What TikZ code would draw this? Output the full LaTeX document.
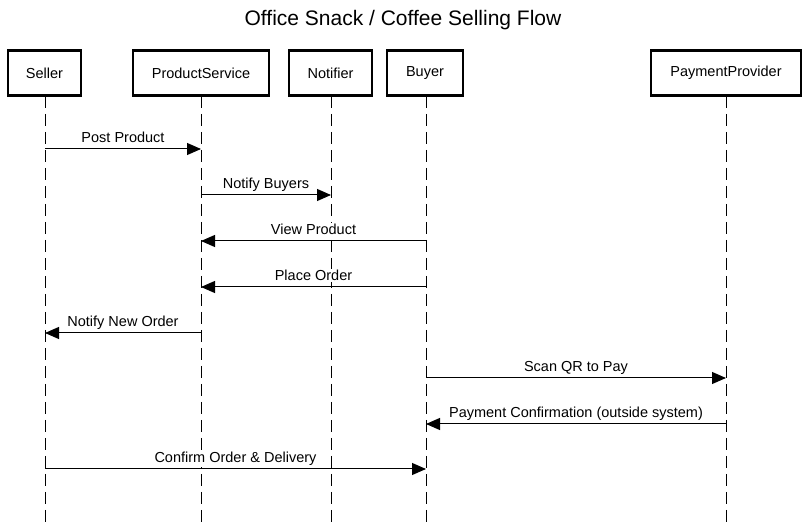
\documentclass[tikz,border=0pt]{standalone}
\usepackage{fontspec}
\setmainfont{Liberation Sans}
\usetikzlibrary{arrows.meta,calc}
\begin{document}
\begin{tikzpicture}[x=1pt,y=-1pt,
  actor/.style={draw=black,line width=2.5pt,fill=white,minimum height=45pt,inner sep=0pt,font=\fontsize{14.5}{16}\selectfont},
  life/.style={draw=black,line width=1pt,dash pattern=on 12pt off 6pt},
  msg/.style={draw=black,line width=1pt,-{Triangle[length=14pt,width=12pt]}},
  lbl/.style={font=\fontsize{14.5}{16}\selectfont,fill=white,inner xsep=2pt,inner ysep=1pt,anchor=base,yshift=6pt}]
\useasboundingbox (0,0) rectangle (807,526);
\node[font=\fontsize{21}{24}\selectfont,anchor=base] (title) at (403,26) {Office Snack / Coffee Selling Flow};
% lifelines
\draw[life] (45,96) -- (45,522) coordinate (sellerE);
\draw[life] (201,96) -- (201,522) coordinate (psE);
\draw[life] (331,96) -- (331,522) coordinate (ntE);
\draw[life] (426,96) -- (426,522) coordinate (buyE);
\draw[life] (726,96) -- (726,522) coordinate (ppE);
% actors
\node[actor,minimum width=73pt] (seller) at (44.5,73) {Seller};
\node[actor,minimum width=136pt] (ps) at (201,73) {ProductService};
\node[actor,minimum width=83pt] (nt) at (330.5,73) {Notifier};
\node[actor,minimum width=76pt] (buy) at (425,73) {Buyer};
\node[actor,minimum width=150pt] (pp) at (726,73) {PaymentProvider};
% message coordinates
\foreach \n/\x in {s/45,p/201,n/331,b/426,q/726}{
  \foreach \i/\y in {1/149,2/195,3/241,4/287,5/333,6/378,7/424,8/469}{
    \coordinate (\n\i) at (\x,\y);
  }
}
\node[lbl] (m1) at ($(s1)!0.5!(p1)$) {Post Product};
\draw[msg] (s1) -- (p1);
\node[lbl] (m2) at ($(p2)!0.5!(n2)$) {Notify Buyers};
\draw[msg] (p2) -- (n2);
\node[lbl] (m3) at ($(b3)!0.5!(p3)$) {View Product};
\draw[msg] (b3) -- (p3);
\node[lbl] (m4) at ($(b4)!0.5!(p4)$) {Place Order};
\draw[msg] (b4) -- (p4);
\node[lbl] (m5) at ($(p5)!0.5!(s5)$) {Notify New Order};
\draw[msg] (p5) -- (s5);
\node[lbl] (m6) at ($(b6)!0.5!(q6)$) {Scan QR to Pay};
\draw[msg] (b6) -- (q6);
\node[lbl] (m7) at ($(q7)!0.5!(b7)$) {Payment Confirmation (outside system)};
\draw[msg] (q7) -- (b7);
\node[lbl] (m8) at ($(s8)!0.5!(b8)$) {Confirm Order \& Delivery};
\draw[msg] (s8) -- (b8);
\end{tikzpicture}
\end{document}
